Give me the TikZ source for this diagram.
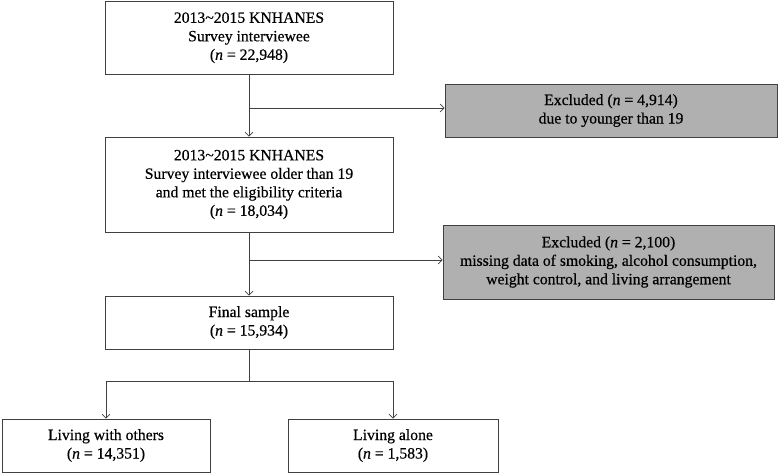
\documentclass[tikz,border=0pt]{standalone}
\usepackage{fontspec}
\setmainfont{Liberation Serif}[
  BoldFont={Liberation Serif},BoldFeatures={FakeBold=0.5},
  BoldItalicFont={Liberation Serif Italic},BoldItalicFeatures={FakeBold=0.5}]
\usetikzlibrary{arrows.meta,calc}
\definecolor{boxline}{HTML}{404040}
\definecolor{exfill}{HTML}{B0B0B0}
\definecolor{txt}{HTML}{000000}
\begin{document}
\begin{tikzpicture}[x=1pt,y=-1pt,
  box/.style={draw=boxline,line width=0.9pt,rectangle,inner sep=0pt,align=center,
    text=txt,font=\fontsize{15.7}{18.5}\selectfont\bfseries},
  exbox/.style={box,fill=exfill},
  conn/.style={draw=boxline,line width=0.7pt},
  arr/.style={conn,-{Straight Barb[length=4pt,width=8pt,line width=0.7pt]}}]
\useasboundingbox (0,0) rectangle (778,473);
\node[box,minimum width=288pt,minimum height=72.5pt] (b1) at (249,37.75)
  {2013\textasciitilde2015 KNHANES\\Survey interviewee\\(\textit{n} = 22,948)};
\node[box,minimum width=288pt,minimum height=95pt] (b2) at (249,184.5)
  {2013\textasciitilde2015 KNHANES\\Survey interviewee older than 19\\and met the eligibility criteria\\(\textit{n} = 18,034)};
\node[box,minimum width=288pt,minimum height=53pt] (b3) at (249,322.5)
  {Final sample\\(\textit{n} = 15,934)};
\node[exbox,minimum width=332pt,minimum height=53pt] (e1) at (611,110.5)
  {Excluded (\textit{n} = 4,914)\\due to younger than 19};
\node[exbox,minimum width=331pt,minimum height=74pt] (e2) at (608.5,262)
  {Excluded (\textit{n} = 2,100)\\missing data of smoking, alcohol consumption,\\weight control, and living arrangement};
\node[box,minimum width=208pt,minimum height=53pt] (l1) at (106,445.5)
  {Living with others\\(\textit{n} = 14,351)};
\node[box,minimum width=210pt,minimum height=53pt] (l2) at (393,445.5)
  {Living alone\\(\textit{n} = 1,583)};
\coordinate (j1) at (249,108);
\coordinate (j2) at (249,260);
\coordinate (j3) at (249,381);
\draw[arr] (b1.south) -- (b2.north);
\draw[arr] (j1) -- (e1.west |- j1);
\draw[arr] (b2.south) -- (b3.north);
\draw[arr] (j2) -- (e2.west |- j2);
\draw[conn] (b3.south) -- (j3);
\draw[arr] (j3) -| (l1.north);
\draw[arr] (j3) -| (l2.north);
\end{tikzpicture}
\end{document}
